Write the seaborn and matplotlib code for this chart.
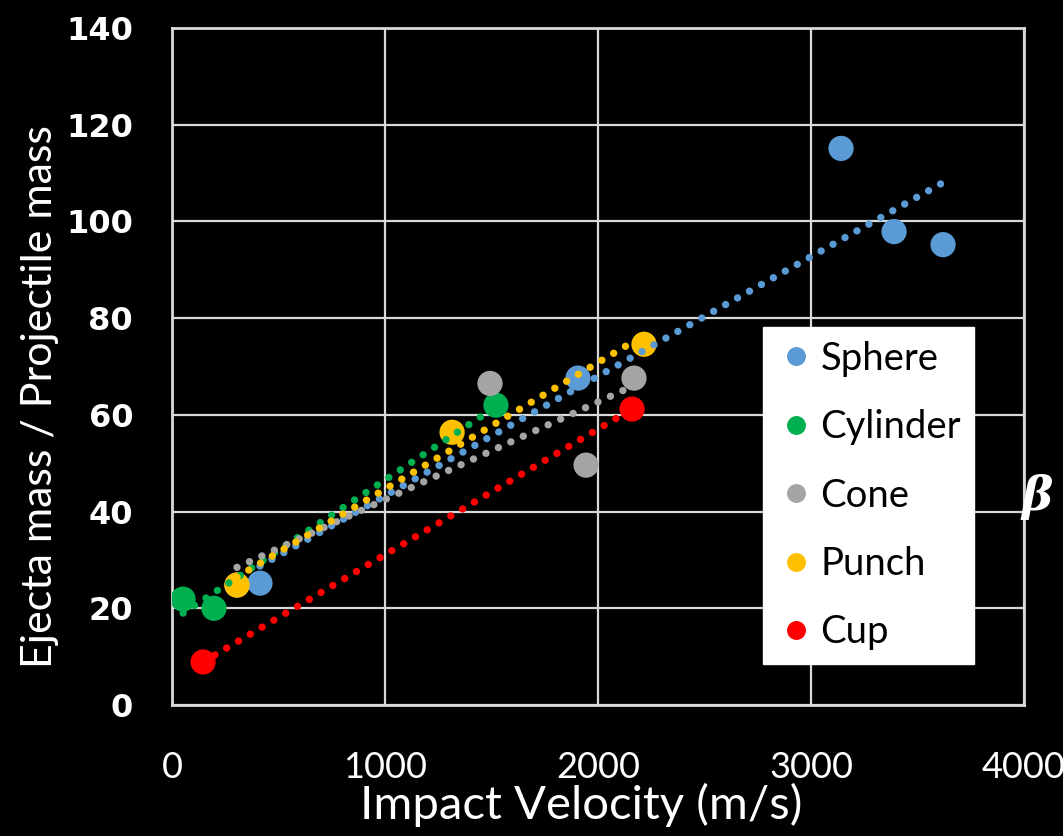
import numpy as np
import pandas as pd
import matplotlib
matplotlib.use('Agg')
import matplotlib.pyplot as plt
import seaborn as sns

# ------------------------------------------------------------
# Data (impact velocity m/s, ejecta/projectile mass)
# ------------------------------------------------------------
shapes = ['Sphere', 'Cylinder', 'Cone', 'Punch', 'Cup']
colors = ['#5B9BD5', '#00B050', '#A5A5A5', '#FFC000', '#FF0000']

sphere_v = [413, 1906, 3141, 3390, 3620]
sphere_m = [25.2, 67.6, 115.1, 97.9, 95.2]

cylinder_v = [52, 197, 1521]
cylinder_m = [21.9, 20.0, 62.0]

# first cone point sits under the punch marker
cone_v = [305, 1493, 1944, 2169]
cone_m = [24.8, 66.5, 49.6, 67.6]

punch_v = [305, 1315, 2216]
punch_m = [24.8, 56.4, 74.6]

cup_v = [146, 2160]
cup_m = [8.9, 61.2]

x_ticks = [0, 1000, 2000, 3000, 4000]
y_ticks = [0, 20, 40, 60, 80, 100, 120, 140]

velocities = [sphere_v, cylinder_v, cone_v, punch_v, cup_v]
masses = [sphere_m, cylinder_m, cone_m, punch_m, cup_m]

df = pd.concat([pd.DataFrame({'v': v, 'm': m, 'shape': s})
                for s, v, m in zip(shapes, velocities, masses)],
               ignore_index=True)

# ------------------------------------------------------------
# Figure
# ------------------------------------------------------------
sns.set_style('white')
fig = plt.figure(figsize=(10.63, 8.36), dpi=100, facecolor='black')
ax = fig.add_axes([0.1618, 0.1567, 0.8015, 0.8098])
ax.set_facecolor('black')

palette = dict(zip(shapes, colors))
sns.scatterplot(data=df, x='v', y='m', hue='shape', hue_order=shapes,
                palette=palette, s=330, linewidth=0, ax=ax, zorder=3)

# linear trend lines (round dots) over each data range
for s in shapes:
    sub = df[df['shape'] == s]
    sns.regplot(data=sub, x='v', y='m', ax=ax, scatter=False, ci=None,
                truncate=True, color=palette[s],
                line_kws={'linestyle': (0, (0.01, 1.85)), 'dash_capstyle': 'round',
                          'lw': 5.3, 'zorder': 4})

ax.set_xlim(0, 4000)
ax.set_ylim(0, 140)
ax.set_xticks(x_ticks)
ax.set_yticks(y_ticks)
ax.grid(True, color='#d9d9d9', lw=1.6)
ax.set_axisbelow(True)
for sp in ax.spines.values():
    sp.set_color('#d9d9d9')
    sp.set_linewidth(2)

ax.tick_params(axis='both', length=0, colors='white')
ax.tick_params(axis='y', pad=28)
ax.tick_params(axis='x', pad=33)
for lab in ax.get_yticklabels():
    lab.set_fontsize(23)
    lab.set_fontweight('bold')
    lab.set_family(['DejaVu Sans'])
for lab in ax.get_xticklabels():
    lab.set_fontsize(26)
    lab.set_family(['Lato', 'DejaVu Sans'])

ax.set_xlabel('Impact Velocity (m/s)', color='white', fontsize=34,
              family=['Lato', 'DejaVu Sans'], va='center')
ax.xaxis.set_label_coords(0.48, -0.148)
ax.set_ylabel('Ejecta mass / Projectile mass', color='white', fontsize=31,
              family=['Lato', 'DejaVu Sans'], va='center')
ax.yaxis.set_label_coords(-0.155, 0.455)

leg = ax.legend(loc='upper left', bbox_to_anchor=(0.694, 0.558),
                borderaxespad=0, frameon=True, fancybox=False, framealpha=1,
                markerscale=0.75,
                prop={'family': ['Lato', 'DejaVu Sans'], 'size': 27.5},
                labelspacing=0.85, handletextpad=0.15, borderpad=0.35,
                handlelength=1.0, title=None)
leg.get_frame().set_facecolor('white')
leg.get_frame().set_edgecolor('white')
for t in leg.get_texts():
    t.set_color('black')

fig.text(0.9755, 0.405, 'β', color='white', fontsize=34,
         ha='center', va='center', family='DejaVu Serif', fontweight='bold',
         style='italic')

fig.savefig('out.png', dpi=100, facecolor='black')
